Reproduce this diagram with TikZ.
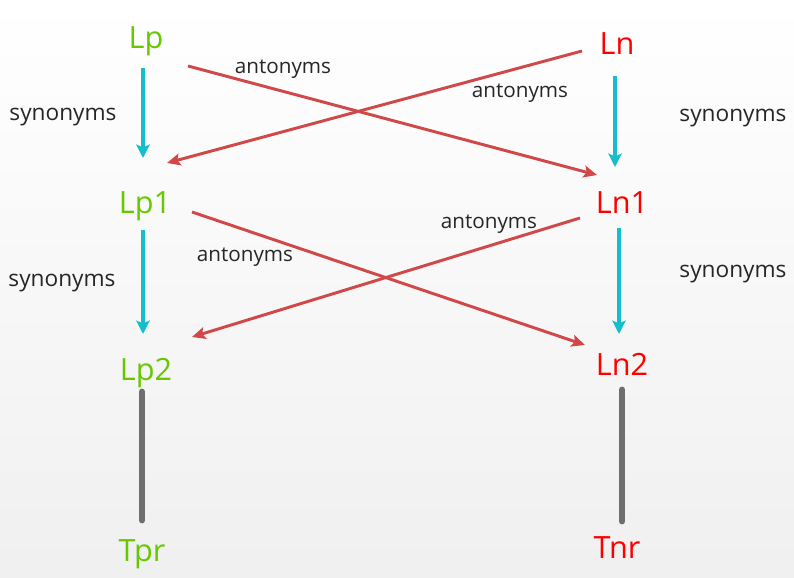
\documentclass[tikz,border=0pt]{standalone}
\usepackage{fontspec}
\setmainfont{Open Sans}
\usepackage{tikz}
\usetikzlibrary{arrows.meta,positioning}
\definecolor{posgreen}{RGB}{104,200,0}
\definecolor{negred}{RGB}{255,0,0}
\definecolor{synarrow}{RGB}{22,190,205}
\definecolor{antarrow}{RGB}{208,72,72}
\definecolor{tiebar}{RGB}{110,110,110}
\tikzset{
  posword/.style={anchor=base,text=posgreen,font=\fontsize{23}{26}\selectfont,inner sep=0pt},
  negword/.style={anchor=base,text=negred,font=\fontsize{23}{26}\selectfont,inner sep=0pt},
  syn/.style={anchor=base,font=\fontsize{17}{20}\selectfont,text=black!85},
  ant/.style={anchor=base,font=\fontsize{15.5}{18}\selectfont,text=black!85},
  synonym/.style={color=synarrow,line width=2.4pt,-{Stealth[length=10pt,width=10pt,inset=2pt]}},
  antonym/.style={color=antarrow,line width=2.2pt,-{Stealth[length=10pt,width=9pt,inset=2pt]}},
  tie/.style={color=tiebar,line width=5.2pt,line cap=round}
}

\begin{document}
\begin{tikzpicture}[x=0.75pt,y=-0.75pt]
\useasboundingbox[top color=white,bottom color=black!6] (0,0) rectangle (794,578);
\node[posword] (Lp) at (146,48) {Lp};
\node[negword] (Ln) at (617,55) {Ln};
\node[posword] (Lp1) at (145,213) {Lp1};
\node[negword] (Ln1) at (622,213) {Ln1};
\node[posword] (Lp2) at (146,380) {Lp2};
\node[negword] (Ln2) at (622,375) {Ln2};
\node[posword] (Tpr) at (142,561) {Tpr};
\node[negword] (Tnr) at (617,558) {Tnr};
\node[syn] (s1) at (63,120) {synonyms};
\node[syn] (s2) at (733,121) {synonyms};
\node[syn] (s3) at (62,286) {synonyms};
\node[syn] (s4) at (733,277) {synonyms};
\node[ant] (a1) at (283,73) {antonyms};
\node[ant] (a2) at (520,97) {antonyms};
\node[ant] (a3) at (245,261) {antonyms};
\node[ant] (a4) at (489,228) {antonyms};
\path[synonym]
([shift={(-3,20)}]Lp.base) edge ([shift={(-2,-55)}]Lp1.base)
([shift={(-2,21)}]Ln.base) edge ([shift={(-7,-46)}]Ln1.base)
([shift={(-2,17)}]Lp1.base) edge ([shift={(-3,-46)}]Lp2.base)
([shift={(-3,15)}]Ln1.base) edge ([shift={(-3,-41)}]Ln2.base);
\path[antonym]
([shift={(42,18)}]Lp.base) edge ([shift={(-25,-38)}]Ln1.base)
([shift={(-35,-4)}]Ln.base) edge ([shift={(22,-50)}]Lp1.base)
([shift={(47,-1)}]Lp1.base) edge ([shift={(-37,-30)}]Ln2.base)
([shift={(-42,5)}]Ln1.base) edge ([shift={(46,-43)}]Lp2.base);
\path[tie]
([shift={(-4,12)}]Lp2.base) edge ([shift={(0,-41)}]Tpr.base)
([shift={(0,15)}]Ln2.base) edge ([shift={(5,-37)}]Tnr.base);
\end{tikzpicture}
\end{document}
